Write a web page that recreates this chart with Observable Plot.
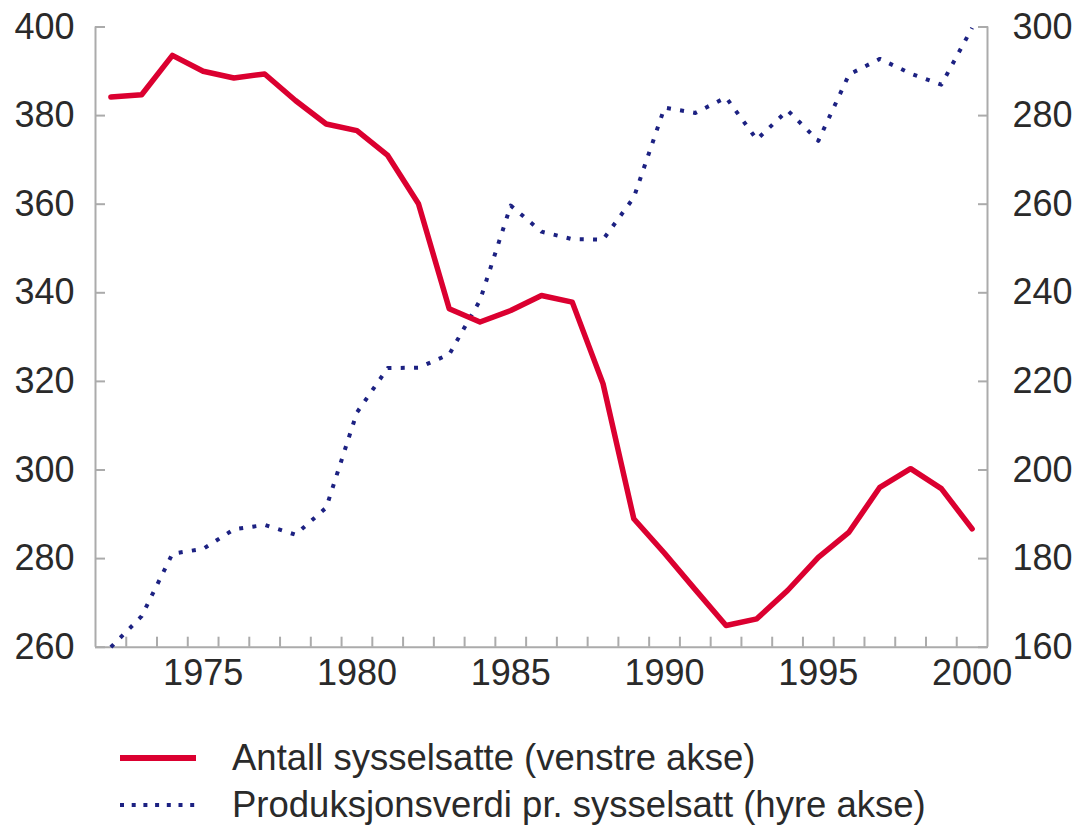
<!DOCTYPE html>
<html>
<head>
<meta charset="utf-8">
<script src="https://cdn.jsdelivr.net/npm/d3@7"></script>
<script src="https://cdn.jsdelivr.net/npm/@observablehq/plot@0.6"></script>
<style>
  body { margin: 0; background: #fff; font-family: "Liberation Sans", Arial, sans-serif; }
  #wrap { position: relative; width: 1074px; height: 825px; overflow: hidden; }
  #chart { position: absolute; left: 0; top: 0; }
  .row { position: absolute; left: 120px; height: 48px; display: flex; align-items: center; }
  .row span { font-size: 36.5px; color: #2a2a2a; margin-left: 36px; white-space: nowrap; }
  .row svg { display: block; }
</style>
</head>
<body>
<div id="wrap">
  <div id="chart"></div>
  <div class="row" id="row1" style="top:734px"></div>
  <div class="row" id="row2" style="top:781px"></div>
</div>
<script>
const years = [1972,1973,1974,1975,1976,1977,1978,1979,1980,1981,1982,1983,1984,1985,1986,1987,1988,1989,1990,1991,1992,1993,1994,1995,1996,1997,1998,1999,2000];
// Antall sysselsatte (venstre akse)
const employed = [384.2,384.7,393.6,390.0,388.5,389.4,383.4,378.1,376.6,371.0,360.1,336.4,333.4,336.0,339.4,337.9,319.5,289.0,281.2,273.0,264.9,266.4,272.8,280.3,286.0,296.1,300.3,295.8,286.7];
// Produksjonsverdi pr. sysselsatt (høyre akse)
const prodValue = [160.0,167.0,181.1,182.2,186.6,187.6,185.4,191.5,213.0,223.0,223.1,226.1,238.3,259.7,253.8,252.1,252.0,261.5,281.8,280.6,284.1,274.6,281.2,274.3,289.3,292.8,289.5,287.0,299.8];
const xTickLabels = [1975,1980,1985,1990,1995,2000];
const leftDomain = [260, 400];
const rightDomain = [160, 300];
const leftTicks = [260,280,300,320,340,360,380,400];
const rightTicks = [160,180,200,220,240,260,280,300];
const legendLabels = ["Antall sysselsatte (venstre akse)", "Produksjonsverdi pr. sysselsatt (hyre akse)"];

const redColor = "#db0030";
const blueColor = "#1c2182";
const axisColor = "#ababab";
const textColor = "#2a2a2a";

// map right-axis values onto the left scale
const k = (leftDomain[1] - leftDomain[0]) / (rightDomain[1] - rightDomain[0]);
const toLeft = v => leftDomain[0] + (v - rightDomain[0]) * k;
const toRight = v => rightDomain[0] + (v - leftDomain[0]) / k;

const redData = years.map((y, i) => ({year: y, value: employed[i]}));
const blueData = years.map((y, i) => ({year: y, value: toLeft(prodValue[i])}));
const xDomain = [years[0] - 0.5, years[years.length - 1] + 0.5];
const boundaries = years.slice(1).map(y => y - 0.5);

const chart = Plot.plot({
  width: 1074,
  height: 700,
  marginLeft: 95,
  marginRight: 87,
  marginTop: 26.5,
  marginBottom: 53.3,
  style: {fontFamily: "'Liberation Sans', Arial, sans-serif", fontSize: "36px", color: textColor, background: "#fff"},
  x: {domain: xDomain, axis: null},
  y: {domain: leftDomain, axis: null},
  marks: [
    // axis lines
    Plot.ruleY([leftDomain[0]], {stroke: axisColor, strokeWidth: 2}),
    Plot.ruleX([xDomain[0]], {stroke: axisColor, strokeWidth: 2}),
    Plot.ruleX([xDomain[1]], {stroke: axisColor, strokeWidth: 2}),
    // inward tick marks
    Plot.axisX(boundaries, {anchor: "bottom", tickSize: -10, tickFormat: () => "", stroke: axisColor, strokeWidth: 2, label: null}),
    Plot.axisY(leftTicks, {anchor: "left", tickSize: -10, tickFormat: () => "", stroke: axisColor, strokeWidth: 2, label: null}),
    Plot.axisY(rightTicks.map(toLeft), {anchor: "right", tickSize: -10, tickFormat: () => "", stroke: axisColor, strokeWidth: 2, label: null}),
    // tick labels
    Plot.axisX(xTickLabels, {anchor: "bottom", tickSize: 0, tickPadding: 12, tickFormat: d => String(d), fill: textColor, fontSize: 36, label: null}),
    Plot.axisY(leftTicks, {anchor: "left", tickSize: 0, tickPadding: 21, tickFormat: d => String(d), fill: textColor, fontSize: 36, label: null}),
    Plot.axisY(rightTicks.map(toLeft), {anchor: "right", tickSize: 0, tickPadding: 25, tickFormat: d => String(Math.round(toRight(d))), fill: textColor, fontSize: 36, label: null}),
    // series
    Plot.line(blueData, {x: "year", y: "value", stroke: blueColor, strokeWidth: 4, strokeDasharray: "4 9.3", strokeLinecap: "butt"}),
    Plot.line(redData, {x: "year", y: "value", stroke: redColor, strokeWidth: 5.5, strokeLinejoin: "round"})
  ]
});
document.getElementById("chart").append(chart);

function swatch(color, width, dash) {
  const ns = "http://www.w3.org/2000/svg";
  const svg = document.createElementNS(ns, "svg");
  svg.setAttribute("width", 76);
  svg.setAttribute("height", 10);
  const line = document.createElementNS(ns, "line");
  line.setAttribute("x1", 0); line.setAttribute("x2", 76);
  line.setAttribute("y1", 5); line.setAttribute("y2", 5);
  line.setAttribute("stroke", color);
  line.setAttribute("stroke-width", width);
  if (dash) line.setAttribute("stroke-dasharray", dash);
  svg.append(line);
  return svg;
}
const r1 = document.getElementById("row1");
r1.append(swatch(redColor, 6, null));
const t1 = document.createElement("span"); t1.textContent = legendLabels[0]; r1.append(t1);
const r2 = document.getElementById("row2");
r2.append(swatch(blueColor, 4, "4 7.7"));
const t2 = document.createElement("span"); t2.textContent = legendLabels[1]; r2.append(t2);
</script>
</body>
</html>
